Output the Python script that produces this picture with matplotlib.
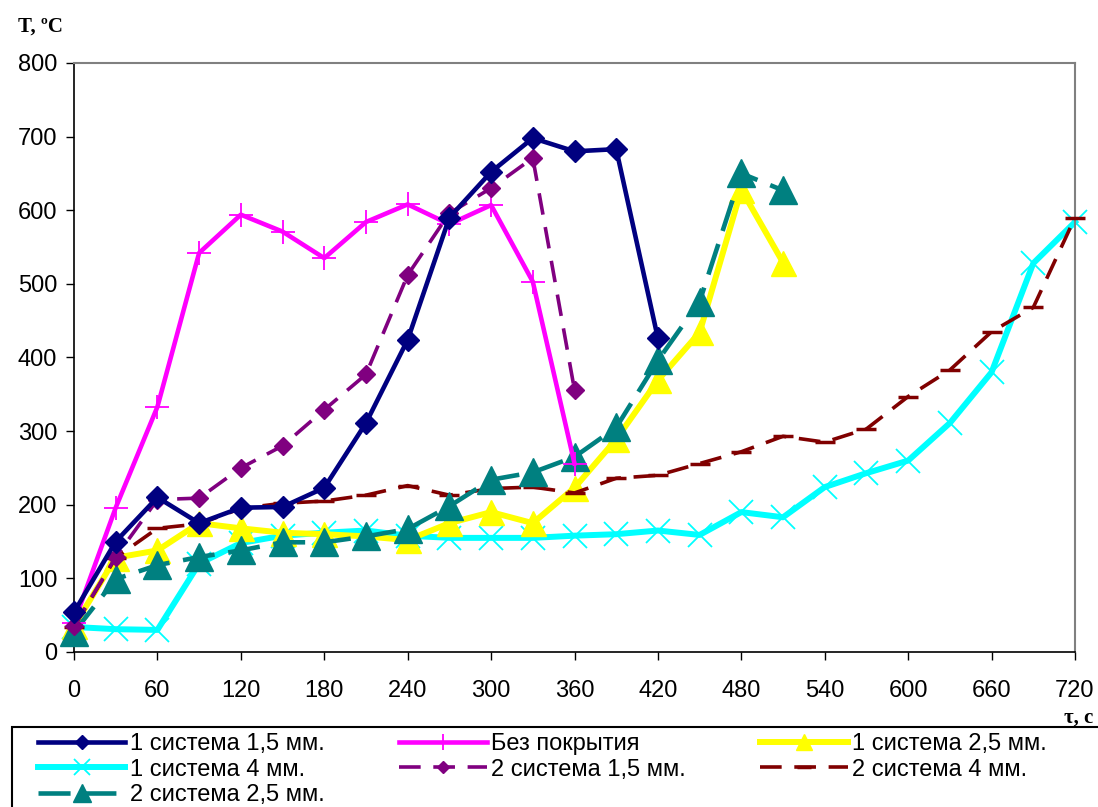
import matplotlib
matplotlib.use("Agg")
import matplotlib.pyplot as plt
from matplotlib.patches import Rectangle

plt.rcParams["font.family"] = ["Liberation Sans", "DejaVu Sans"]

# time, s
t_long = [0, 30, 60, 90, 120, 150, 180, 210, 240, 270, 300, 330, 360, 390, 420,
          450, 480, 510, 540, 570, 600, 630, 660, 690, 720]

# 1 система 1,5 мм.
s1_15 = [54, 150, 210, 175, 196, 197, 223, 311, 424, 590, 652, 698, 680, 683, 426]
# Без покрытия
bare = [40, 196, 333, 542, 594, 571, 535, 584, 608, 581, 607, 503, 256]
# 1 система 2,5 мм.
s1_25 = [35, 128, 138, 175, 168, 162, 160, 157, 152, 175, 190, 175, 223, 289, 369,
         434, 628, 529]
# 1 система 4 мм.
s1_4 = [34, 31, 30, 120, 148, 158, 162, 165, 158, 155, 155, 155, 158, 160, 165,
        159, 190, 183, 224, 243, 260, 311, 380, 528, 584]
# 2 система 1,5 мм.
s2_15 = [35, 129, 207, 209, 250, 280, 329, 377, 512, 596, 630, 671, 356]
# 2 система 4 мм.
s2_4 = [34, 128, 168, 174, 195, 202, 205, 213, 226, 213, 222, 224, 216, 236, 240,
        256, 272, 293, 285, 303, 347, 383, 435, 468, 590]
# 2 система 2,5 мм.
s2_25 = [27, 99, 118, 129, 138, 149, 149, 157, 167, 198, 234, 244, 265, 305, 396,
         476, 650, 627]

fig = plt.figure(figsize=(10.98, 8.07), dpi=100)
ax = fig.add_axes([74 / 1098, 1 - 652 / 807, (1075 - 74) / 1098, (652 - 63) / 807])

common = dict(clip_on=False, solid_joinstyle="round", dash_capstyle="butt")

h_s1_15, = ax.plot(t_long[:len(s1_15)], s1_15, color="#000080", lw=3.3, marker="D",
                   ms=11, label="1 система 1,5 мм.", zorder=6, **common)
h_bare, = ax.plot(t_long[:len(bare)], bare, color="#FF00FF", lw=3.3, marker="+",
                  ms=17, mew=1.3, label="Без покрытия", zorder=5, **common)
h_s1_25, = ax.plot(t_long[:len(s1_25)], s1_25, color="#FFFF00", lw=4.3, marker="^",
                   ms=18, label="1 система 2,5 мм.", zorder=3, **common)
h_s1_4, = ax.plot(t_long[:len(s1_4)], s1_4, color="#00FFFF", lw=4.3, marker="x",
                  ms=17, mew=1.3, label="1 система 4 мм.", zorder=2, **common)
h_s2_15, = ax.plot(t_long[:len(s2_15)], s2_15, color="#800080", lw=2.6, ls=(0, (6, 3.5)),
                   marker="D", ms=9, label="2 система 1,5 мм.", zorder=5, **common)
h_s2_4, = ax.plot(t_long[:len(s2_4)], s2_4, color="#800000", lw=2.6, ls=(0, (6, 3.5)),
                  marker="_", ms=15, mew=2.5, label="2 система 4 мм.", zorder=4, **common)
h_s2_25, = ax.plot(t_long[:len(s2_25)], s2_25, color="#008080", lw=3.3, ls=(0, (7, 3)),
                   marker="^", ms=20, label="2 система 2,5 мм.", zorder=4, **common)

ax.set_xlim(0, 720)
ax.set_ylim(0, 800)
ax.set_xticks(range(0, 721, 60))
ax.set_yticks(range(0, 801, 100))
ax.tick_params(labelsize=17, length=6, width=1, direction="out")
ax.tick_params(axis="x", pad=14)
ax.tick_params(axis="y", pad=6)
for side in ("top", "right"):
    ax.spines[side].set_color("#808080")
    ax.spines[side].set_linewidth(1.5)
for side in ("left", "bottom"):
    ax.spines[side].set_linewidth(1.2)

fig.text(18 / 1098, 1 - 27 / 807, "T, ºC", family="Liberation Serif", weight="bold",
         fontsize=15, va="center", ha="left")
fig.text(1064 / 1098, 1 - 718 / 807, "τ, c", family="Liberation Serif", weight="bold",
         fontsize=15, va="center", ha="left")

handles = [h_s1_15, h_s1_4, h_s2_25, h_bare, h_s2_15, h_s1_25, h_s2_4]
leg = fig.legend(handles=handles, ncol=3, loc="upper left",
                 bbox_to_anchor=(38 / 1098, 1 - 733 / 807), frameon=False,
                 fontsize=17, handlelength=3.7, handletextpad=0.2,
                 columnspacing=3.15, labelspacing=0.15, numpoints=1,
                 borderpad=0, borderaxespad=0)
for h in leg.legend_handles:
    h.set_markersize(h.get_markersize() * 0.65)

fig.patches.append(Rectangle((12 / 1098, -0.01), 1.0, 1 - 727 / 807 + 0.01,
                             transform=fig.transFigure, fill=False, lw=1.5,
                             edgecolor="black"))

fig.savefig("out.png", dpi=100)
